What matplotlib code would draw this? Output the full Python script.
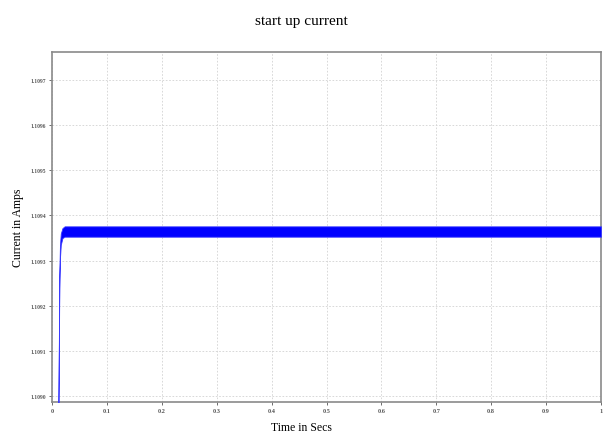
import matplotlib.pyplot as plt

# start-up current trace (envelope of the fast ripple band)
time_s = [0.0, 0.0115, 0.0125, 0.0133, 0.0145, 0.016, 0.019, 0.023, 1.0]
current_low = [-0.5, -0.5, 1.0, 2.4, 3.05, 3.35, 3.50, 3.53, 3.53]
current_high = [-0.5, -0.5, 1.2, 2.7, 3.35, 3.60, 3.72, 3.76, 3.76]

x_ticks = [0, 0.1, 0.2, 0.3, 0.4, 0.5, 0.6, 0.7, 0.8, 0.9, 1.0]
x_labels = ['0', '0.1', '0.2', '0.3', '0.4', '0.5', '0.6', '0.7', '0.8', '0.9', '1']
y_ticks = [0, 1, 2, 3, 4, 5, 6, 7]
y_labels = ['1.1090', '1.1091', '1.1092', '1.1093', '1.1094', '1.1095', '1.1096', '1.1097']

plt.rcParams['font.family'] = ['Liberation Serif', 'DejaVu Serif']

fig = plt.figure(figsize=(6.03, 4.39), dpi=100)
ax = fig.add_axes([52 / 603, 1 - 403 / 439, 549 / 603, 350 / 439])
ax.set_axisbelow(True)

ax.fill_between(time_s, current_low, current_high, color='#0000ff', linewidth=0.6,
                edgecolor='#3a3aff', zorder=3)

ax.set_xlim(0, 1)
ax.set_ylim(-0.13, 7.62)
ax.set_xticks(x_ticks)
ax.set_xticklabels(x_labels, fontsize=4.5, fontweight='bold')
ax.set_yticks(y_ticks)
ax.set_yticklabels(y_labels, fontsize=4, fontweight='bold')
ax.tick_params(length=2, width=0.6, colors='#555555', pad=2)

ax.grid(True, linestyle=(0, (2, 2)), color='#d2d2d2', linewidth=0.6)
for s in ax.spines.values():
    s.set_color('#8a8a8a')
    s.set_linewidth(1.2)

fig.text(0.5, 1 - 22 / 439, 'start up current', ha='center', va='center', fontsize=11)
fig.text(0.5, 1 - 428 / 439, 'Time in Secs', ha='center', va='center', fontsize=8.5)
fig.text(18 / 603, 1 - 228 / 439, 'Current in Amps', ha='center', va='center',
         rotation=90, fontsize=8.5)

fig.savefig('out.png', dpi=100)
